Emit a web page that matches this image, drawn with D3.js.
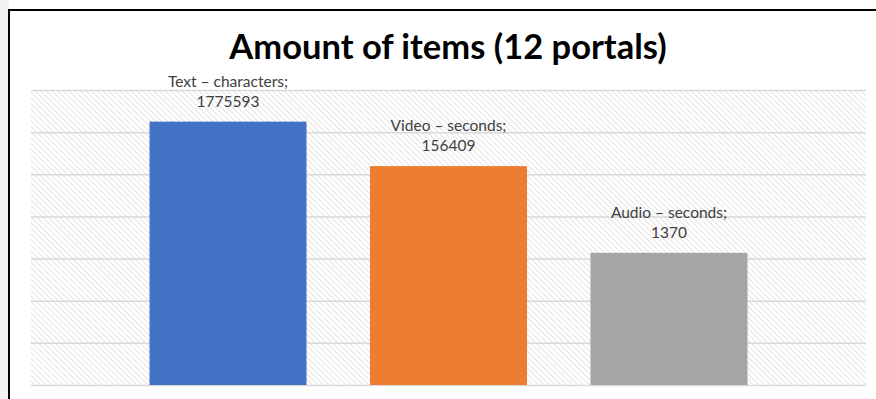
<!DOCTYPE html>
<html lang="en">
<head>
    <meta charset="UTF-8">
    <title>Amount of items</title>
    <script src="https://d3js.org/d3.v7.min.js"></script>
    <style type="text/css">
        body {
            margin: 0;
            background-color: #f2f2f2;
        }

        .grid line {
            stroke: #d9d9d9;
            stroke-width: 1.5px;
        }

        .grid path {
            display: none;
        }

        .title {
            font-family: "Lato", sans-serif;
            font-weight: 700;
            font-size: 34.5px;
            fill: #000;
            text-anchor: middle;
        }

        .label {
            font-family: "Lato", sans-serif;
            font-size: 15.5px;
            fill: #404040;
            text-anchor: middle;
        }
    </style>
</head>
<body>
    <script type="text/javascript">
        //DATA
        const categories = ["Text \u2013 characters", "Video \u2013 seconds", "Audio \u2013 seconds"];
        const values = [1775593, 156409, 1370];
        const colors = ["#4472c4", "#ed7d31", "#a5a5a5"];
        const gridTicks = [1, 10, 100, 1000, 10000, 100000, 1000000, 10000000];

        //CONSTANTS
        const width = 876;
        const height = 399;
        const plot = {left: 31, right: 866, top: 90, bottom: 385};

        const svg = d3.select("body")
            .append("svg")
            .attr("width", width)
            .attr("height", height)
            .style("display", "block");

        //chart box (white area, black border on left and top)
        svg.append("rect")
            .attr("x", 9)
            .attr("y", 0)
            .attr("width", width)
            .attr("height", height)
            .attr("fill", "#fff");
        svg.append("line")
            .attr("x1", 9).attr("x2", 9)
            .attr("y1", 9).attr("y2", height)
            .attr("stroke", "#000").attr("stroke-width", 2);
        svg.append("line")
            .attr("x1", 8).attr("x2", width)
            .attr("y1", 10).attr("y2", 10)
            .attr("stroke", "#000").attr("stroke-width", 2);

        //HATCH PATTERN
        const pattern = svg.append("defs")
            .append("pattern")
            .attr("id", "hatch")
            .attr("patternUnits", "userSpaceOnUse")
            .attr("width", 4)
            .attr("height", 4)
            .attr("patternTransform", "rotate(-45)");
        pattern.append("rect")
            .attr("width", 4).attr("height", 4)
            .attr("fill", "#fff");
        pattern.append("line")
            .attr("x1", 0).attr("x2", 0)
            .attr("y1", 0).attr("y2", 4)
            .attr("stroke", "#dcdcdc")
            .attr("stroke-width", 1.6);

        //SCALES
        const xScale = d3.scaleBand()
            .domain(categories)
            .range([plot.left, plot.right])
            .paddingInner(0.288)
            .paddingOuter(0.5375);

        const yScale = d3.scaleLog()
            .domain([1, 10000000])
            .range([plot.bottom, plot.top]);

        //plot background
        svg.append("rect")
            .attr("x", plot.left)
            .attr("y", plot.top)
            .attr("width", plot.right - plot.left)
            .attr("height", plot.bottom - plot.top)
            .attr("fill", "url(#hatch)");

        //GRIDLINES
        svg.append("g")
            .attr("class", "grid")
            .attr("transform", "translate(" + plot.left + ",0)")
            .call(d3.axisLeft(yScale)
                .tickValues(gridTicks)
                .tickSize(-(plot.right - plot.left))
                .tickFormat(""));

        //BARS
        svg.selectAll(".bar")
            .data(values)
            .join("rect")
            .attr("class", "bar")
            .attr("x", (d, i) => xScale(categories[i]))
            .attr("y", d => yScale(d))
            .attr("width", xScale.bandwidth())
            .attr("height", d => plot.bottom - yScale(d))
            .attr("fill", (d, i) => colors[i]);

        //LABELS
        const labels = svg.selectAll(".label")
            .data(values)
            .join("text")
            .attr("class", "label")
            .attr("x", (d, i) => xScale(categories[i]) + xScale.bandwidth() / 2)
            .attr("y", d => yScale(d) - 35);
        labels.append("tspan")
            .text((d, i) => categories[i] + ";");
        labels.append("tspan")
            .attr("x", (d, i) => xScale(categories[i]) + xScale.bandwidth() / 2)
            .attr("dy", 20)
            .text(d => d);

        //TITLE
        svg.append("text")
            .attr("class", "title")
            .attr("x", 448)
            .attr("y", 59)
            .text("Amount of items (12 portals)");
    </script>
</body>
</html>
